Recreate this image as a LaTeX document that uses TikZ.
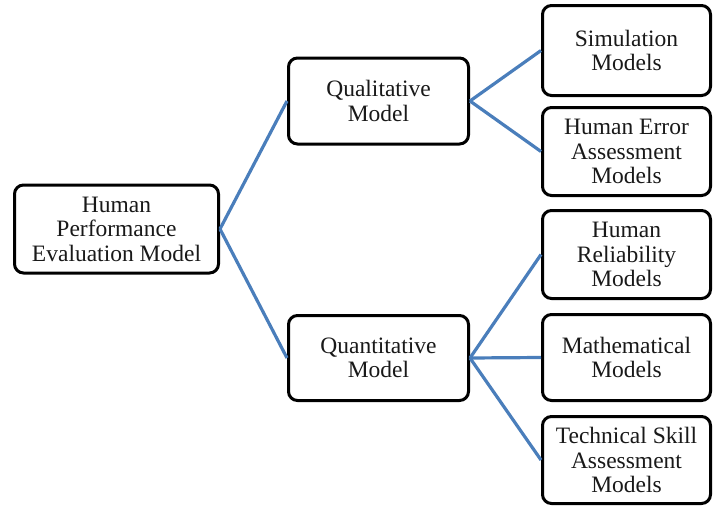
\documentclass[tikz,border=0pt]{standalone}
\usepackage{fontspec}
\setmainfont{Liberation Serif}
\begin{document}
\begin{tikzpicture}[x=1pt,y=-1pt,
  box/.style={draw=black, line width=3pt, rounded corners=9pt, fill=white,
    align=center, inner sep=1pt, text=black!90,
    font=\fontsize{23.5}{24.5}\selectfont},
  link/.style={draw={rgb,255:red,74;green,126;blue,187}, line width=3.2pt}]
\useasboundingbox (0,0) rectangle (713,506);
% root
\node[box, minimum width=204pt, minimum height=88pt] (root) at (116.5,229)
  {Human\\Performance\\Evaluation Model};
% second level
\node[box, minimum width=180pt, minimum height=86pt] (qual) at (378.5,101)
  {Qualitative\\Model};
\node[box, minimum width=180pt, minimum height=85pt] (quant) at (378.5,358)
  {Quantitative\\Model};
% leaves
\node[box, minimum width=168pt, minimum height=90pt] (sim) at (626.5,50.5)
  {Simulation\\Models};
\node[box, minimum width=168pt, minimum height=88pt] (hea) at (626.5,151.5)
  {Human Error\\Assessment\\Models};
\node[box, minimum width=168pt, minimum height=88pt] (hrm) at (626.5,254.5)
  {Human\\Reliability\\Models};
\node[box, minimum width=168pt, minimum height=86pt] (math) at (626.5,357.5)
  {Mathematical\\Models};
\node[box, minimum width=168pt, minimum height=87pt] (tech) at (626.5,460)
  {Technical Skill\\Assessment\\Models};
% connectors
\draw[link] (root.east) -- (qual.west);
\draw[link] (root.east) -- (quant.west);
\draw[link] (qual.east) -- (sim.west);
\draw[link] (qual.east) -- (hea.west);
\draw[link] (quant.east) -- (hrm.west);
\draw[link] (quant.east) -- (math.west);
\draw[link] (quant.east) -- (tech.west);
\end{tikzpicture}
\end{document}
